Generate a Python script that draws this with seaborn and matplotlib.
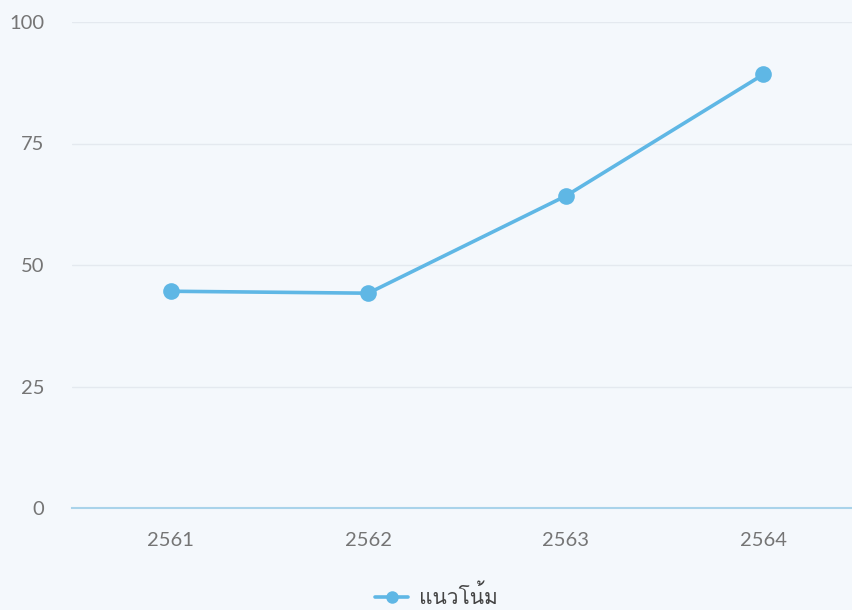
import matplotlib
matplotlib.use("Agg")
import matplotlib.pyplot as plt
import seaborn as sns
import pandas as pd
from matplotlib import font_manager
from matplotlib.ft2font import FT2Font

years = ["2561", "2562", "2563", "2564"]
values = [44.6, 44.2, 64.2, 89.2]
series_name = "แนวโน้ม"
y_ticks = [0, 25, 50, 75, 100]

# find an installed font that has Thai glyphs (for the legend text)
thai_font = None
for f in font_manager.fontManager.ttflist:
    try:
        cm = FT2Font(f.fname).get_charmap()
        if 0x0E19 in cm and 0x0E42 in cm and 0x0E49 in cm:
            thai_font = f.name
            break
    except Exception:
        pass

sns.set_theme(style="white")
plt.rcParams["font.family"] = ["Lato", "DejaVu Sans"]

bg = "#f4f8fc"
line_color = "#5fb7e5"
tick_color = "#757575"

df = pd.DataFrame({"year": years, "value": values, "series": series_name})

fig = plt.figure(figsize=(8.52, 6.10), dpi=100, facecolor=bg)
ax = fig.add_axes([72 / 852, (610 - 508) / 610, 790 / 852, (508 - 22) / 610])
ax.set_facecolor(bg)

sns.lineplot(data=df, x="year", y="value", hue="series", palette=[line_color],
             marker="o", markersize=12, markeredgewidth=0, linewidth=2.6,
             sort=False, ax=ax)

ax.set_xlim(-0.5, 3.5)
ax.set_ylim(0, 100)
ax.set_yticks(y_ticks)
ax.set_yticklabels([str(t) for t in y_ticks])
ax.yaxis.grid(True, color="#e4e9ef", linewidth=1)
ax.set_axisbelow(True)
for s in ["top", "right", "left"]:
    ax.spines[s].set_visible(False)
ax.spines["bottom"].set_color("#a9d3ea")
ax.spines["bottom"].set_linewidth(1.5)
ax.tick_params(axis="both", length=0, labelsize=14.5, colors=tick_color)
ax.tick_params(axis="x", pad=17)
ax.tick_params(axis="y", pad=20)
ax.set_xlabel("")
ax.set_ylabel("")

ax.get_legend().remove()
handles, labels = ax.get_legend_handles_labels()
legend_fams = ([thai_font] if thai_font else []) + ["Noto Sans", "DejaVu Sans"]
leg = fig.legend(handles, labels, loc="center", bbox_to_anchor=(0.512, 0.022),
                 frameon=False, handlelength=1.6, handletextpad=0.5,
                 markerscale=0.75, prop={"family": legend_fams, "size": 15})
for t in leg.get_texts():
    t.set_color("#444444")

fig.savefig("out.png", dpi=100, facecolor=bg)
